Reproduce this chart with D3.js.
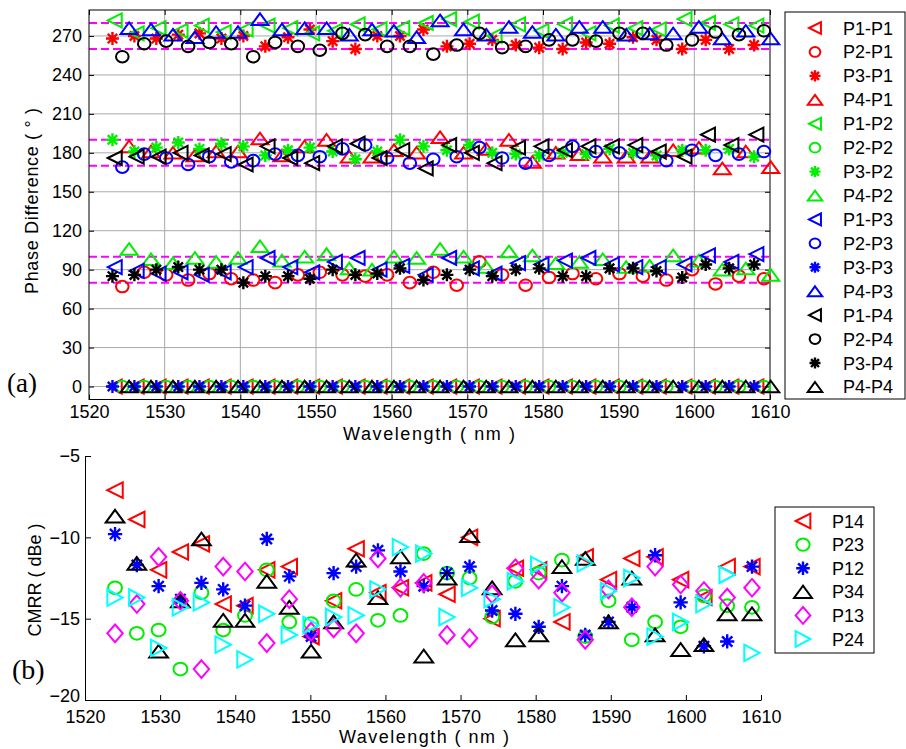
<!DOCTYPE html>
<html>
<head>
<meta charset="utf-8">
<style>
  body { margin: 0; background: #fff; }
  svg text { font-family: "Liberation Sans", Arial, sans-serif; }
</style>
</head>
<body>
<div class="chart"></div>
<script src="https://d3js.org/d3.v7.min.js"></script>
<script>
// wavelength (nm) of each measurement
const wavelength = [1524.0, 1526.9, 1529.8, 1532.7, 1535.5, 1538.4, 1541.3, 1544.2, 1547.2, 1550.1,
  1553.1, 1556.1, 1559.0, 1562.0, 1565.1, 1568.2, 1571.2, 1574.2, 1577.3, 1580.4,
  1583.5, 1586.6, 1589.7, 1592.8, 1595.9, 1599.3, 1602.4, 1605.5, 1608.8];

// (a) phase difference, degrees
const p1p1 = [0, 0, 0, 0, 0, 0, 0, 0, 0, 0, 0, 0, 0, 0, 0, 0, 0, 0, 0, 0, 0, 0, 0, 0, 0, 0, 0, 0, 0];
const p2p1 = [77, 88, 86, 82, 87, 83, 82, 80, 86, 88, 86, 85, 86, 80, 88, 78, 96, 86, 78, 84, 87, 83, 87, 85, 82, 90, 79, 85, 83];
const p3p1 = [268, 270, 268, 271, 272, 268, 270, 262, 269, 275, 266, 260, 270, 270, 275, 262, 264, 267, 263, 261, 260, 265, 264, 269, 267, 260, 267, 260, 263];
const p4p1 = [185, 181, 180, 178, 181, 181, 191, 178, 185, 190, 177, 177, 182, 180, 192, 180, 183, 190, 173, 180, 179, 177, 177, 177, 182, 184, 168, 181, 169];
const p1p2 = [282, 272, 276, 274, 278, 273, 275, 278, 276, 272, 274, 279, 275, 276, 280, 283, 281, 270, 279, 274, 279, 272, 278, 276, 275, 283, 280, 279, 278];
const p2p2 = [0, 0, 0, 0, 0, 0, 0, 0, 0, 0, 0, 0, 0, 0, 0, 0, 0, 0, 0, 0, 0, 0, 0, 0, 0, 0, 0, 0, 0];
const p3p2 = [190, 181, 184, 188, 183, 187, 185, 178, 182, 184, 181, 175, 181, 190, 185, 182, 186, 180, 179, 178, 180, 179, 183, 180, 178, 182, 182, 183, 177];
const p4p2 = [106, 98, 95, 99, 96, 99, 108, 97, 100, 102, 91, 90, 100, 99, 106, 100, 92, 104, 101, 95, 96, 98, 92, 93, 101, 97, 90, 91, 86];
const p1p3 = [92, 89, 87, 88, 86, 88, 92, 99, 92, 88, 96, 99, 90, 93, 86, 99, 91, 87, 95, 94, 97, 99, 94, 92, 92, 94, 101, 96, 102];
const p2p3 = [169, 179, 176, 171, 177, 173, 174, 179, 178, 177, 183, 186, 176, 172, 175, 177, 184, 176, 172, 178, 185, 181, 180, 180, 174, 182, 178, 179, 181];
const p3p3 = [0, 0, 0, 0, 0, 0, 0, 0, 0, 0, 0, 0, 0, 0, 0, 0, 0, 0, 0, 0, 0, 0, 0, 0, 0, 0, 0, 0, 0];
const p4p3 = [276, 275, 271, 269, 273, 273, 283, 275, 276, 276, 271, 275, 274, 269, 282, 275, 271, 277, 273, 271, 277, 277, 271, 272, 272, 277, 268, 274, 268];
const p1p4 = [176, 177, 177, 180, 178, 179, 171, 185, 176, 172, 185, 187, 176, 182, 168, 186, 180, 172, 184, 185, 182, 185, 185, 186, 181, 177, 194, 186, 194];
const p2p4 = [254, 264, 266, 262, 265, 264, 254, 265, 262, 259, 272, 271, 262, 262, 256, 263, 272, 261, 262, 267, 267, 266, 272, 272, 263, 267, 273, 271, 274];
const p3p4 = [85, 86, 90, 92, 90, 90, 80, 85, 85, 83, 90, 86, 87, 91, 82, 86, 90, 85, 90, 91, 85, 85, 91, 91, 89, 84, 94, 91, 94];
const p4p4 = [0, 0, 0, 0, 0, 0, 0, 0, 0, 0, 0, 0, 0, 0, 0, 0, 0, 0, 0, 0, 0, 0, 0, 0, 0, 0, 0, 0, 0];
// small wavelength offset of each source port in (a), nm
const portShift = [-0.6, 0.4, -0.9, 1.3];
const phaseLimits = [80, 100, 170, 190, 260, 280];

// (b) CMRR, dBe
const p14 = [-7.1, -8.9, -12.0, -10.9, -10.4, -14.1, -14.2, -12.0, -11.8, -16.1, -13.9, -10.7, -13.4, -13.1, -12.8, -13.5, -10.0, -15.0, -11.9, -12.0, -15.2, -11.2, -12.6, -11.3, -11.2, -12.6, -13.7, -11.8, -11.8];
const p23 = [-13.1, -15.9, -15.7, -18.1, -13.4, -15.7, -14.8, -12.0, -15.2, -15.3, -13.9, -13.2, -15.1, -14.8, -11.0, -12.2, -12.5, -14.9, -12.7, -12.2, -11.4, -16.1, -13.9, -16.3, -15.2, -15.5, -13.6, -14.2, -14.3];
const p12 = [-9.8, -11.7, -13.0, -13.8, -12.8, -13.2, -14.2, -10.1, -12.4, -16.1, -12.2, -11.8, -10.8, -12.1, -13.0, -12.2, -11.8, -14.5, -14.7, -15.5, -13.0, -16.0, -15.2, -14.3, -11.1, -14.0, -16.7, -16.4, -11.8];
const p34 = [-8.7, -11.6, -17.0, -13.9, -10.1, -15.1, -15.1, -12.7, -14.3, -17.0, -15.2, -11.4, -13.7, -11.2, -17.3, -12.5, -9.9, -13.1, -16.3, -16.0, -11.8, -11.3, -15.2, -12.5, -16.0, -16.9, -16.6, -14.7, -14.7];
const p13 = [-15.9, -14.1, -11.2, -13.9, -18.1, -11.8, -12.1, -16.5, -13.8, -15.8, -15.6, -15.9, -11.3, -13.1, -12.8, -16.0, -16.2, -13.5, -11.9, -12.6, -13.4, -16.3, -13.2, -14.3, -11.8, -12.9, -13.3, -13.7, -13.1];
const p24 = [-13.7, -13.7, -16.8, -14.3, -14.0, -16.6, -17.5, -14.7, -16.0, -15.4, -14.9, -14.8, -13.2, -10.6, -11.0, -14.9, -13.1, -13.8, -12.7, -11.7, -14.3, -11.6, -13.3, -12.5, -16.1, -15.2, -14.1, -12.3, -17.1];

const xTicks = [1520, 1530, 1540, 1550, 1560, 1570, 1580, 1590, 1600, 1610];
const phaseTicks = [0, 30, 60, 90, 120, 150, 180, 210, 240, 270];
const cmrrTicks = [-20, -15, -10, -5];

const W = 906, H = 749;
const svg = d3.select('.chart').append('svg')
  .attr('width', W).attr('height', H);
svg.append('rect').attr('width', W).attr('height', H).attr('fill', '#fff');

// marker shapes, sizes in px (half extents)
function markerPath(kind, k) {
  k = k || 1;
  if (kind === 'ltri') { const w = 7 * k, h = 7 * k; return `M${-w},0L${w},${-h}L${w},${h}Z`; }
  if (kind === 'rtri') { const w = 7 * k, h = 7.5 * k; return `M${w},0L${-w},${-h}L${-w},${h}Z`; }
  if (kind === 'utri') { const w = 8.5 * k, h = 5.8 * k; return `M0,${-h}L${w},${h}L${-w},${h}Z`; }
  if (kind === 'circle') { const rx = 6.3 * k, ry = 5.8 * k; return `M${-rx},0A${rx},${ry} 0 1,0 ${rx},0A${rx},${ry} 0 1,0 ${-rx},0Z`; }
  if (kind === 'diamond') { const w = 7 * k, h = 8 * k; return `M0,${-h}L${w},0L0,${h}L${-w},0Z`; }
  if (kind === 'star') { const r = 6.5 * k, d = r * 0.72; return `M${-r},0H${r}M0,${-r}V${r}M${-d},${-d}L${d},${d}M${-d},${d}L${d},${-d}`; }
}
function markerWidth(kind) { return kind === 'star' ? 2.4 : 2; }

// ---------- (a) phase difference ----------
const colorsA = ['#ff0000', '#00ee00', '#0000ff', '#000000'];
const marksA = ['ltri', 'circle', 'star', 'utri'];
const valuesA = [
  [p1p1, p2p1, p3p1, p4p1],
  [p1p2, p2p2, p3p2, p4p2],
  [p1p3, p2p3, p3p3, p4p3],
  [p1p4, p2p4, p3p4, p4p4]
];
const seriesA = [];
valuesA.forEach((row, j) => {
  row.forEach((vals, i) => {
    seriesA.push({ name: `P${i + 1}-P${j + 1}`, color: colorsA[j], mark: marksA[i], shift: portShift[i], values: vals });
  });
});

const xA = d3.scaleLinear().domain([1520, 1610]).range([89, 770]);
const yA = d3.scaleLinear().domain([-10, 290]).range([399.5, 10]);

const gA = svg.append('g');
// grid
gA.selectAll('.vgrid').data(xTicks.slice(1, -1)).join('line')
  .attr('x1', d => xA(d)).attr('x2', d => xA(d))
  .attr('y1', yA(-10)).attr('y2', yA(290))
  .attr('stroke', '#a9a9a9').attr('stroke-width', 1);
gA.selectAll('.hgrid').data(phaseTicks).join('line')
  .attr('x1', xA(1520)).attr('x2', xA(1610))
  .attr('y1', d => yA(d)).attr('y2', d => yA(d))
  .attr('stroke', '#a9a9a9').attr('stroke-width', 1);

// limit lines
gA.selectAll('.lim').data(phaseLimits).join('line')
  .attr('x1', xA(1520)).attr('x2', xA(1610))
  .attr('y1', d => yA(d)).attr('y2', d => yA(d))
  .attr('stroke', '#ff00ff').attr('stroke-width', 2)
  .attr('stroke-dasharray', '8,4');

// axes
function styleAxis(g) {
  g.select('.domain').remove();
  g.selectAll('.tick line').attr('stroke', '#000');
  g.selectAll('text').attr('font-size', 18).attr('fill', '#000')
    .attr('font-family', '"Liberation Sans", Arial, sans-serif');
}
gA.append('g').attr('transform', `translate(0,${yA(-10)})`)
  .call(d3.axisBottom(xA).tickValues(xTicks).tickFormat(d3.format('d')).tickSize(-5).tickPadding(6))
  .call(styleAxis);
gA.append('g').attr('transform', `translate(0,${yA(290)})`)
  .call(d3.axisTop(xA).tickValues(xTicks).tickFormat('').tickSize(-5))
  .call(styleAxis);
gA.append('g').attr('transform', `translate(${xA(1520)},0)`)
  .call(d3.axisLeft(yA).tickValues(phaseTicks).tickSize(-5).tickPadding(7))
  .call(styleAxis);
gA.append('g').attr('transform', `translate(${xA(1610)},0)`)
  .call(d3.axisRight(yA).tickValues(phaseTicks).tickFormat('').tickSize(-5))
  .call(styleAxis);
gA.append('rect')
  .attr('x', xA(1520)).attr('y', yA(290))
  .attr('width', xA(1610) - xA(1520)).attr('height', yA(-10) - yA(290))
  .attr('fill', 'none').attr('stroke', '#000').attr('stroke-width', 1);

// markers
seriesA.forEach(s => {
  gA.append('g').selectAll('path').data(s.values).join('path')
    .attr('transform', (d, i) => `translate(${xA(wavelength[i] + s.shift)},${yA(d)})`)
    .attr('d', markerPath(s.mark))
    .attr('fill', 'none').attr('stroke', s.color).attr('stroke-width', markerWidth(s.mark));
});

// labels
svg.append('text')
  .attr('transform', `translate(38,201) rotate(-90)`)
  .attr('text-anchor', 'middle').attr('font-size', 18)
  .attr('textLength', 186).attr('lengthAdjust', 'spacing')
  .text('Phase Difference ( ° )');
svg.append('text')
  .attr('x', 429).attr('y', 440).attr('text-anchor', 'middle').attr('font-size', 18)
  .attr('textLength', 172).attr('lengthAdjust', 'spacing')
  .text('Wavelength ( nm )');
svg.append('text')
  .attr('x', 7).attr('y', 392).attr('font-size', 27)
  .style('font-family', '"Liberation Serif", "Times New Roman", serif')
  .text('(a)');

// legend (a)
const legA = svg.append('g');
legA.append('rect').attr('x', 785).attr('y', 12).attr('width', 120).attr('height', 387)
  .attr('fill', '#fff').attr('stroke', '#000').attr('stroke-width', 1);
seriesA.forEach((s, i) => {
  const cy = 28 + i * 23.93;
  legA.append('path').attr('transform', `translate(815,${cy})`)
    .attr('d', markerPath(s.mark, 0.85))
    .attr('fill', 'none').attr('stroke', s.color).attr('stroke-width', markerWidth(s.mark));
  legA.append('text').attr('x', 843).attr('y', cy + 6.5).attr('font-size', 18).text(s.name);
});

// ---------- (b) CMRR ----------
const seriesB = [
  { name: 'P14', color: '#ff0000', mark: 'ltri', values: p14 },
  { name: 'P23', color: '#00ee00', mark: 'circle', values: p23 },
  { name: 'P12', color: '#0000ff', mark: 'star', values: p12 },
  { name: 'P34', color: '#000000', mark: 'utri', values: p34 },
  { name: 'P13', color: '#ff00ff', mark: 'diamond', values: p13 },
  { name: 'P24', color: '#00ffff', mark: 'rtri', values: p24 }
];
const xB = d3.scaleLinear().domain([1520, 1610]).range([85, 761]);
const yB = d3.scaleLinear().domain([-20, -5]).range([700, 456]);
const gB = svg.append('g');

function styleAxisB(g) {
  g.select('.domain').attr('stroke', '#000');
  g.selectAll('.tick line').attr('stroke', '#000');
  g.selectAll('text').attr('font-size', 18).attr('fill', '#000')
    .attr('font-family', '"Liberation Sans", Arial, sans-serif');
}
gB.append('g').attr('transform', `translate(0,${yB(-20)})`)
  .call(d3.axisBottom(xB).tickValues(xTicks).tickFormat(d3.format('d')).tickSize(-5).tickSizeOuter(0).tickPadding(10))
  .call(styleAxisB);
gB.append('g').attr('transform', `translate(${xB(1520)},0)`)
  .call(d3.axisLeft(yB).tickValues(cmrrTicks).tickSize(-6).tickSizeOuter(0).tickPadding(5))
  .call(styleAxisB)
  .selectAll('text').attr('dy', d => d === -20 ? '0.1em' : '0.32em');

seriesB.forEach(s => {
  gB.append('g').selectAll('path').data(s.values).join('path')
    .attr('transform', (d, i) => `translate(${xB(wavelength[i])},${yB(d)})`)
    .attr('d', markerPath(s.mark, 1.1))
    .attr('fill', 'none').attr('stroke', s.color).attr('stroke-width', markerWidth(s.mark));
});

svg.append('text')
  .attr('transform', `translate(41,580) rotate(-90)`)
  .attr('text-anchor', 'middle').attr('font-size', 18)
  .text('CMRR ( dBe )');
svg.append('text')
  .attr('x', 424).attr('y', 743).attr('text-anchor', 'middle').attr('font-size', 18)
  .attr('textLength', 170).attr('lengthAdjust', 'spacing')
  .text('Wavelength ( nm )');
svg.append('text')
  .attr('x', 12).attr('y', 679).attr('font-size', 28)
  .style('font-family', '"Liberation Serif", "Times New Roman", serif')
  .text('(b)');

// legend (b)
const legB = svg.append('g');
legB.append('rect').attr('x', 775).attr('y', 507).attr('width', 99).attr('height', 146)
  .attr('fill', '#fff').attr('stroke', '#000').attr('stroke-width', 1);
seriesB.forEach((s, i) => {
  const cy = 521 + i * 23.6;
  legB.append('path').attr('transform', `translate(803,${cy})`)
    .attr('d', markerPath(s.mark, 1.05))
    .attr('fill', 'none').attr('stroke', s.color).attr('stroke-width', markerWidth(s.mark));
  legB.append('text').attr('x', 832).attr('y', cy + 6.5).attr('font-size', 18).text(s.name);
});
</script>
</body>
</html>
